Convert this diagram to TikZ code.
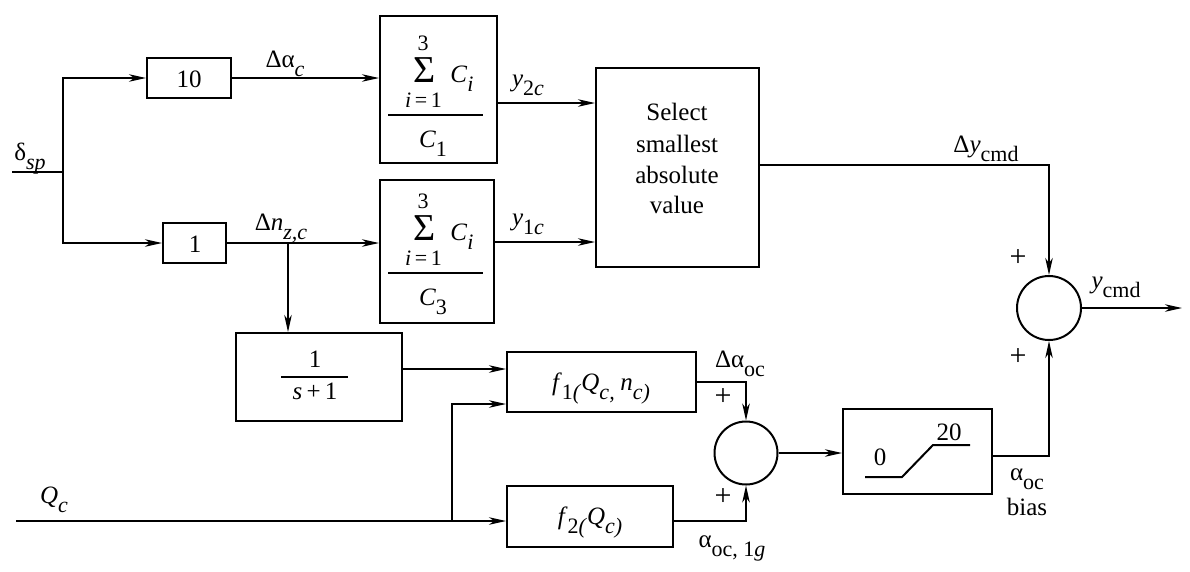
\documentclass[tikz,border=0pt]{standalone}
\usepackage{fontspec}
\setmainfont{Liberation Serif}
\usetikzlibrary{arrows.meta,calc}
\newcommand\mysub[1]{\raisebox{-9pt}{\fontsize{22}{22}\selectfont #1}}
\begin{document}
\begin{tikzpicture}[x=1pt,y=-1pt,
  >={Stealth[length=17pt,width=7.5pt,inset=5pt]},
  every node/.style={font=\fontsize{25}{31}\selectfont, inner sep=0pt},
  blk/.style={draw, line width=2pt},
  sumc/.style={draw, circle, line width=2pt, minimum size=63pt},
  wire/.style={line width=1.4pt},
  bar/.style={line width=1.3pt},
  txt/.style={anchor=base},
  small/.style={anchor=base, font=\fontsize{22}{22}\selectfont},
  sig/.style={anchor=base, font=\fontsize{38}{38}\selectfont},
  plus/.style={font=\fontsize{30}{30}\selectfont}]
\useasboundingbox (0,0) rectangle (1190,571);

% blocks
\node[blk, minimum width=84pt, minimum height=40pt] (n10) at (189,78) {};
\node[txt] (t10) at (189,87) {10};
\node[blk, minimum width=63pt, minimum height=40pt] (n1) at (194.5,243) {};
\node[txt] (t1) at (195,252) {1};
\node[blk, minimum width=117pt, minimum height=147pt] (sum1) at (438.5,89.5) {};
\node[blk, minimum width=114pt, minimum height=143pt] (sum2) at (437,251.5) {};
\node[blk, minimum width=163pt, minimum height=199pt] (sel) at (677.5,167.5) {};
\node[txt] (sel1) at (677,120) {Select};
\node[txt] (sel2) at (677,152) {smallest};
\node[txt] (sel3) at (677,183) {absolute};
\node[txt] (sel4) at (677,213) {value};
\node[blk, minimum width=166pt, minimum height=88pt] (lag) at (319,377) {};
\node[blk, minimum width=189pt, minimum height=60pt] (f1) at (601.5,382) {};
\node[txt] (f1t) at (601,390)
  {\textit{f}\mysub{1\textit{(}}\textit{Q}\mysub{\textit{c, }}\textit{n}\mysub{\textit{c)}}};
\node[blk, minimum width=166pt, minimum height=61pt] (f2) at (590,516.5) {};
\node[txt] (f2t) at (590,524)
  {\textit{f}\mysub{2\textit{(}}\textit{Q}\mysub{\textit{c)}}};
\node[sumc] (c2) at (746,453) {};
\node[blk, minimum width=149pt, minimum height=85pt] (sat) at (917.5,451.5) {};
\node[sumc, minimum size=64pt] (c1) at (1049,308) {};

% sum block contents
\node[small] (s1t) at (423,50) {3};
\node[sig] (s1s) at (424.5,82) {Σ};
\node[small] (s1b) at (423.5,107) {\textit{i}\,=\,1};
\node[txt] (s1c) at (462,82) {\textit{C}\mysub{\textit{i}}};
\draw[bar] (388,115) -- (483,115);
\node[txt] (s1d) at (433,147) {\textit{C}\mysub{1}};

\node[small] (s2t) at (423,208) {3};
\node[sig] (s2s) at (424.5,240) {Σ};
\node[small] (s2b) at (423.5,265) {\textit{i}\,=\,1};
\node[txt] (s2c) at (462,240) {\textit{C}\mysub{\textit{i}}};
\draw[bar] (388,273) -- (483,273);
\node[txt] (s2d) at (433,305) {\textit{C}\mysub{3}};

% lag contents
\node[txt] (lagn) at (315,367) {1};
\draw[bar] (281,377) -- (348,377);
\node[txt] (lagd) at (315,399) {\textit{s}\,+\,1};

% saturation
\draw[line width=2pt] (865,477) -- (902,477) -- (933,445) -- (970,445);
\node[txt] (z0) at (880,465) {0};
\node[txt] (z20) at (949,440) {20};

% coordinates
\coordinate (in1) at (12,172);
\coordinate (j1) at (63,172);
\coordinate (j2) at (288,243);
\coordinate (qin) at (16,521);
\coordinate (j3) at (452,521);
\coordinate (out) at (1182,308);

% wires
\draw[wire] (in1) -- (j1);
\draw[wire,->] (j1) |- (n10.west);
\draw[wire,->] (j1) |- (n1.west);
\draw[wire,->] (n10.east) -- (n10.east -| sum1.west);
\draw[wire,->] (n1.east) -- (n1.east -| sum2.west);
\draw[wire,->] (j2) -- (j2 |- lag.north);
\draw[wire,->] ([yshift=-13.5pt]sum1.east) coordinate (o1) -- (o1 -| sel.west);
\draw[wire,->] ([yshift=9.5pt]sum2.east) coordinate (o2) -- (o2 -| sel.west);
\draw[wire,->] ([yshift=2.5pt]sel.east) coordinate (o4) -| (c1.north);
\draw[wire,->] (c1.east) -- (out);
\draw[wire,->] ([yshift=8pt]lag.east) coordinate (o3) -- (o3 -| f1.west);
\draw[wire,->] (qin) -- (qin -| f2.west);
\draw[wire,->] (j3) |- ([yshift=-22pt]f1.west);
\draw[wire,->] (f1.east) -| (c2.north);
\draw[wire,->] ([yshift=-4.5pt]f2.east) -| (c2.south);
\draw[wire,->] (c2.east) -- (c2.east -| sat.west);
\draw[wire,->] ([yshift=-4.5pt]sat.east) -| (c1.south);

% labels
\node[txt] (ldsp) at (30,160) {δ\mysub{\textit{sp}}};
\node[txt] (ldac) at (285,67) {Δα\mysub{\textit{c}}};
\node[txt] (ldnz) at (281,230) {Δ\textit{n}\mysub{\textit{z,c}}};
\node[txt] (ly2) at (528,86) {\textit{y}\mysub{2\textit{c}}};
\node[txt] (ly1) at (528,225) {\textit{y}\mysub{1\textit{c}}};
\node[txt] (ldy) at (986,152) {Δ\textit{y}\mysub{cmd}};
\node[txt] (lyc) at (1116,288) {\textit{y}\mysub{cmd}};
\node[plus] (p1) at (1018,258) {+};
\node[plus] (p2) at (1018,357) {+};
\node[plus] (p3) at (723,397) {+};
\node[plus] (p4) at (723,497) {+};
\node[txt] (ldao) at (740,367) {Δα\mysub{oc}};
\node[txt] (la1g) at (732,547) {α\mysub{oc, 1\textit{g}}};
\node[txt] (lao) at (1027,480) {α\mysub{oc}};
\node[txt] (lbias) at (1027,515) {bias};
\node[txt] (lqc) at (54,503) {\textit{Q}\mysub{\textit{c}}};
\end{tikzpicture}
\end{document}
